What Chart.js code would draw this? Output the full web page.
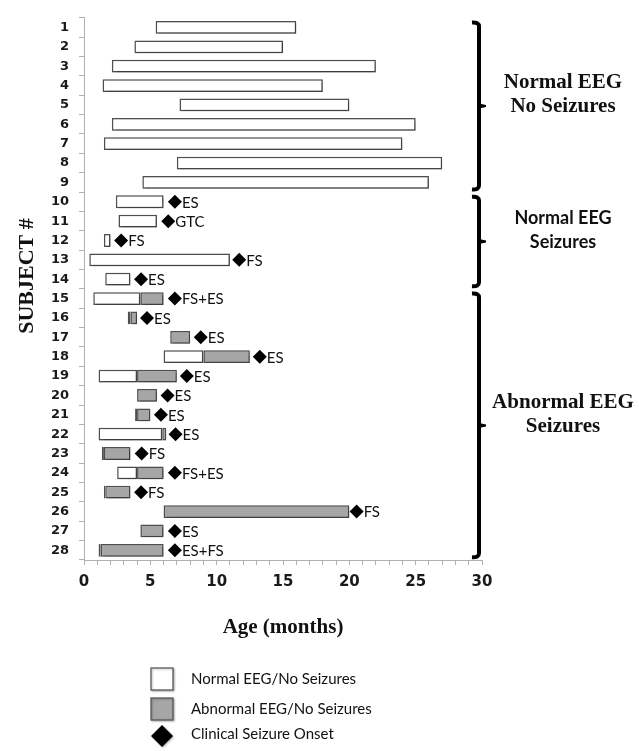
<!DOCTYPE html>
<html>
<head>
<meta charset="utf-8">
<script src="https://cdn.jsdelivr.net/npm/chart.js@4.4.1/dist/chart.umd.min.js"></script>
<style>
  html, body { margin: 0; padding: 0; background: #fff; }
  #wrap { width: 639px; height: 751px; position: relative; }
</style>
</head>
<body>
<div id="wrap"><canvas id="eegChart"></canvas></div>
<script>
// ---- data ----
const subjects = ['1','2','3','4','5','6','7','8','9','10','11','12','13','14',
                  '15','16','17','18','19','20','21','22','23','24','25','26','27','28'];

// normal EEG, no seizures: [start, end] age in months
const normalEEG = [
  [5.4, 16], [3.8, 15], [2.1, 22], [1.4, 18], [7.2, 20], [2.1, 25], [1.5, 24], [7, 27], [4.4, 26],
  [2.4, 6], [2.6, 5.5], [1.5, 2], [0.4, 11], [1.6, 3.5],
  [0.7, 4.25], [3.3, 3.5], null, [6, 9], [1.1, 4], null, [3.85, 4], [1.1, 5.9],
  [1.35, 1.5], [2.5, 4], [1.5, 1.6], null, null, [1.1, 1.25]
];

// abnormal EEG, no seizures
const abnormalEEG = [
  null, null, null, null, null, null, null, null, null,
  null, null, null, null, null,
  [4.25, 6], [3.5, 4], [6.5, 8], [9, 12.5], [4, 7], [4, 5.5], [4, 5], [5.9, 6.2],
  [1.5, 3.5], [4, 6], [1.6, 3.5], [6, 20], [4.25, 6], [1.25, 6]
];

// clinical seizure onset (months) and type
const seizureOnset = [
  null, null, null, null, null, null, null, null, null,
  6.85, 6.35, 2.8, 11.7, 4.3,
  6.85, 4.75, 8.8, 13.25, 7.75, 6.3, 5.8, 6.9, 4.35, 6.85, 4.3, 20.55, 6.85, 6.85
];
const seizureType = [
  '', '', '', '', '', '', '', '', '',
  'ES', 'GTC', 'FS', 'FS', 'ES',
  'FS+ES', 'ES', 'ES', 'ES', 'ES', 'ES', 'ES', 'ES', 'FS', 'FS+ES', 'FS', 'FS', 'ES', 'ES+FS'
];

const groupLabels = [['Normal EEG', 'No Seizures'], ['Normal EEG', 'Seizures'], ['Abnormal EEG', 'Seizures']];
const groupFirst  = ['1', '10', '15'];
const groupLast   = ['9', '14', '28'];
const groupSerif  = [true, false, true];

const legendLabels = ['Normal EEG/No Seizures', 'Abnormal EEG/No Seizures', 'Clinical Seizure Onset'];

const WHITE = '#ffffff';
const GRAY  = '#a6a6a6';
const EDGE  = '#505050';
const SERIF = '"Liberation Serif", "Times New Roman", serif';

// bar drop shadow, only for the two bar datasets
const shadowPlugin = {
  id: 'barShadow',
  beforeDatasetDraw(chart, args) {
    if (args.index > 1) return;
    const c = chart.ctx;
    c.save();
    c.shadowColor = 'rgba(0,0,0,0.35)';
    c.shadowBlur = 3;
    c.shadowOffsetX = 1.5;
    c.shadowOffsetY = 1.5;
  },
  afterDatasetDraw(chart, args) {
    if (args.index > 1) return;
    chart.ctx.restore();
  }
};

// seizure type text, braces, group names, axis titles, legend
const annotPlugin = {
  id: 'annot',
  afterDraw(chart) {
    const c = chart.ctx;
    const xs = chart.scales.x, ys = chart.scales.y;
    const area = chart.chartArea;

    // seizure type labels
    c.save();
    c.fillStyle = '#111';
    c.font = '15px Lato, "Open Sans", sans-serif';
    c.textBaseline = 'middle';
    c.textAlign = 'left';
    seizureOnset.forEach((v, i) => {
      if (v === null) return;
      c.fillText(seizureType[i], xs.getPixelForValue(v) + 7, ys.getPixelForValue(i) + 1);
    });
    c.restore();

    // braces, drawn as heavy square brackets with a middle point
    c.save();
    c.strokeStyle = '#000';
    c.fillStyle = '#000';
    c.lineWidth = 4;
    c.lineJoin = 'miter';
    c.lineCap = 'butt';
    const bx = area.right - 3;
    groupFirst.forEach((g, k) => {
      const top = ys.getPixelForValue(subjects.indexOf(g)) - 5;
      const bot = ys.getPixelForValue(subjects.indexOf(groupLast[k])) + 7;
      const mid = (top + bot) / 2;
      c.beginPath();
      c.moveTo(bx - 7, top);
      c.quadraticCurveTo(bx, top - 0.5, bx, top + 4);
      c.lineTo(bx, bot - 4);
      c.quadraticCurveTo(bx, bot + 0.5, bx - 7, bot);
      c.stroke();
      c.beginPath();
      c.moveTo(bx, mid - 2.5);
      c.lineTo(bx + 7, mid - 1);
      c.lineTo(bx + 7, mid + 1);
      c.lineTo(bx, mid + 2.5);
      c.closePath();
      c.fill();

      // group name
      c.fillStyle = '#111';
      c.textAlign = 'center';
      c.textBaseline = 'middle';
      c.font = groupSerif[k] ? 'bold 21px ' + SERIF : 'bold 18px Lato, sans-serif';
      c.fillText(groupLabels[k][0], 563, mid - 23);
      c.fillText(groupLabels[k][1], 563, mid + 1);
      c.fillStyle = '#000';
    });
    c.restore();

    // axis titles
    c.save();
    c.fillStyle = '#111';
    c.textAlign = 'center';
    c.textBaseline = 'middle';
    c.font = 'bold 21px ' + SERIF;
    c.fillText('Age (months)', (area.left + area.right) / 2, 628);
    c.translate(27, 276);
    c.rotate(-Math.PI / 2);
    c.font = 'bold 22px ' + SERIF;
    c.fillText('SUBJECT #', 0, 0);
    c.restore();

    // legend
    c.save();
    c.shadowColor = 'rgba(0,0,0,0.3)';
    c.shadowBlur = 2;
    c.shadowOffsetX = 1;
    c.shadowOffsetY = 1;
    c.lineWidth = 1.2;
    c.strokeStyle = EDGE;
    c.fillStyle = WHITE;
    c.fillRect(151, 668, 22, 22);
    c.strokeRect(151, 668, 22, 22);
    c.fillStyle = GRAY;
    c.fillRect(151, 698, 22, 22);
    c.strokeRect(151, 698, 22, 22);
    c.fillStyle = '#000';
    c.beginPath();
    c.moveTo(162, 725);
    c.lineTo(173, 736);
    c.lineTo(162, 747);
    c.lineTo(151, 736);
    c.closePath();
    c.fill();
    c.restore();

    c.save();
    c.fillStyle = '#111';
    c.font = '15px Lato, "Open Sans", sans-serif';
    c.textAlign = 'left';
    c.textBaseline = 'middle';
    c.fillText(legendLabels[0], 191, 679);
    c.fillText(legendLabels[1], 191, 709);
    c.fillText(legendLabels[2], 191, 734);
    c.restore();
  }
};

new Chart(document.getElementById('eegChart'), {
  data: {
    labels: subjects,
    datasets: [
      {
        type: 'bar',
        label: legendLabels[0],
        data: normalEEG,
        backgroundColor: WHITE,
        borderColor: EDGE,
        borderWidth: 1.5,
        borderSkipped: false,
        grouped: false,
        barPercentage: 0.66,
        categoryPercentage: 1
      },
      {
        type: 'bar',
        label: legendLabels[1],
        data: abnormalEEG,
        backgroundColor: GRAY,
        borderColor: EDGE,
        borderWidth: 1.5,
        borderSkipped: false,
        grouped: false,
        barPercentage: 0.66,
        categoryPercentage: 1
      },
      {
        type: 'line',
        label: legendLabels[2],
        data: seizureOnset,
        showLine: false,
        pointStyle: 'rectRot',
        pointRadius: 7,
        pointBackgroundColor: '#000',
        pointBorderColor: '#000',
        pointBorderWidth: 0
      }
    ]
  },
  options: {
    indexAxis: 'y',
    responsive: true,
    maintainAspectRatio: false,
    animation: false,
    layout: { padding: { top: 8, right: 157, left: 0, bottom: 0 } },
    plugins: { legend: { display: false }, tooltip: { enabled: false } },
    scales: {
      y: {
        type: 'category',
        offset: true,
        afterFit: (s) => { s.width = 84; },
        grid: { offset: true, drawOnChartArea: false, tickLength: 5, color: '#b0b0b0' },
        border: { display: true, color: '#b0b0b0' },
        ticks: {
          padding: 10,
          color: '#1a1a1a',
          font: { family: '"DejaVu Sans", Verdana, sans-serif', size: 13, weight: 'bold' }
        }
      },
      x: {
        type: 'linear',
        min: 0,
        max: 30,
        afterFit: (s) => { s.height = 191; },
        grid: { drawOnChartArea: false, tickLength: 5, color: '#b0b0b0' },
        border: { display: true, color: '#b0b0b0' },
        ticks: {
          stepSize: 1,
          autoSkip: false,
          maxRotation: 0,
          padding: 8,
          color: '#1a1a1a',
          font: { family: '"DejaVu Sans", Verdana, sans-serif', size: 15, weight: 'bold' },
          callback: (v) => (v % 5 === 0 ? v : '')
        }
      }
    }
  },
  plugins: [shadowPlugin, annotPlugin]
});
</script>
</body>
</html>
